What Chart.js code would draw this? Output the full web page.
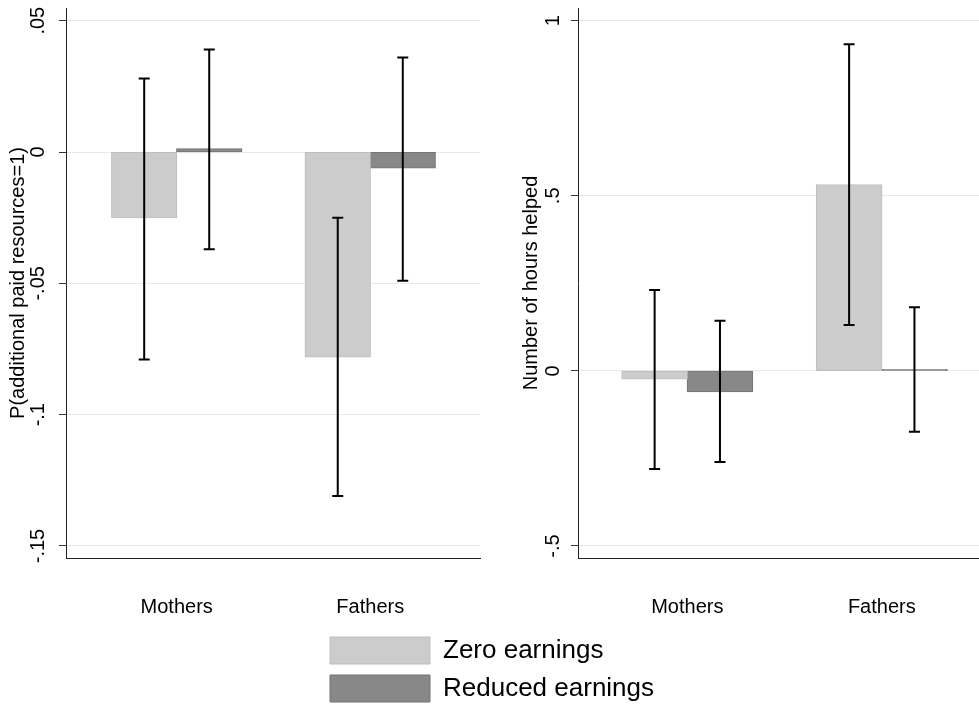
<!DOCTYPE html>
<html><head><meta charset="utf-8">
<script src="https://cdn.jsdelivr.net/npm/chart.js@4.4.1/dist/chart.umd.min.js"></script>
<style>
html,body{margin:0;padding:0;background:#fff;overflow:hidden;width:979px;height:704px;}
.box{position:absolute;}
canvas{display:block;}
</style></head><body>
<div class="box" style="left:0;top:0;width:489px;height:640px"><canvas id="c1" width="489" height="640"></canvas></div>
<div class="box" style="left:489px;top:0;width:514px;height:640px"><canvas id="c2" width="514" height="640"></canvas></div>
<div class="box" style="left:319px;top:626px;width:400px;height:200px"><canvas id="c3" width="400" height="200"></canvas></div>
<script>
// ---- data ----
const categories = ['Mothers', 'Fathers'];
const seriesNames = ['Zero earnings', 'Reduced earnings'];

// Panel 1: P(additional paid resources=1)
const paidZero = [-0.025, -0.078];
const paidZeroLow = [-0.079, -0.131];
const paidZeroHigh = [0.028, -0.025];
const paidReduced = [0.0012, -0.006];
const paidReducedLow = [-0.037, -0.049];
const paidReducedHigh = [0.039, 0.036];

// Panel 2: Number of hours helped
const hoursZero = [-0.023, 0.531];
const hoursZeroLow = [-0.280, 0.131];
const hoursZeroHigh = [0.231, 0.933];
const hoursReduced = [-0.059, 0.004];
const hoursReducedLow = [-0.260, -0.174];
const hoursReducedHigh = [0.143, 0.182];

const paidTicks = [-0.15, -0.1, -0.05, 0, 0.05];
const paidTickLabels = ['-.15', '-.1', '-.05', '0', '.05'];
const hoursTicks = [-0.5, 0, 0.5, 1];
const hoursTickLabels = ['-.5', '0', '.5', '1'];

const titles = ['P(additional paid resources=1)', 'Number of hours helped'];

// ---- style ----
const FONT = "'Liberation Sans', Arial, Helvetica, sans-serif";
Chart.defaults.font.family = FONT;
Chart.defaults.color = '#000';
const fills = ['rgb(204,204,204)', 'rgb(136,136,136)'];
const borders = ['rgb(190,190,190)', 'rgb(116,116,116)'];

const errorBars = {
  id: 'errorBars',
  afterDatasetsDraw(chart) {
    const ctx = chart.ctx, ys = chart.scales.y;
    ctx.save();
    ctx.strokeStyle = '#000';
    ctx.lineWidth = 2;
    chart.data.datasets.forEach((ds, i) => {
      if (!ds.ciLow) return;
      const meta = chart.getDatasetMeta(i);
      meta.data.forEach((el, j) => {
        const x = el.x;
        const yl = ys.getPixelForValue(ds.ciLow[j]);
        const yh = ys.getPixelForValue(ds.ciHigh[j]);
        ctx.beginPath();
        ctx.moveTo(x, yl); ctx.lineTo(x, yh);
        ctx.moveTo(x - 5.5, yl); ctx.lineTo(x + 5.5, yl);
        ctx.moveTo(x - 5.5, yh); ctx.lineTo(x + 5.5, yh);
        ctx.stroke();
      });
    });
    ctx.restore();
  }
};

function makeDataset(k, vals, lo, hi) {
  return {
    label: seriesNames[k],
    data: categories.map((c, i) => ({x: i + 1, y: vals[i]})),
    ciLow: lo, ciHigh: hi,
    backgroundColor: fills[k],
    borderColor: borders[k],
    borderWidth: 1,
    borderSkipped: false,
    inflateAmount: 0.6,
    categoryPercentage: 0.672,
    barPercentage: 1.0
  };
}

function makePanel(id, cfg) {
  return new Chart(document.getElementById(id), {
    type: 'bar',
    data: {datasets: cfg.datasets},
    plugins: [errorBars],
    options: {
      responsive: false,
      animation: false,
      devicePixelRatio: 1,
      layout: {padding: {top: 8, right: cfg.padRight, left: 0, bottom: 0}},
      plugins: {legend: {display: false}, tooltip: {enabled: false}},
      scales: {
        x: {
          type: 'linear', min: cfg.xMin, max: cfg.xMax, offset: false,
          afterBuildTicks: s => { s.ticks = categories.map((c, i) => ({value: i + 1})); },
          afterFit: s => { s.height = 82; s.paddingLeft = 0; s.paddingRight = 0; },
          grid: {display: false, drawTicks: false},
          border: {display: true, color: '#222', width: 1},
          ticks: {autoSkip: false, maxRotation: 0, minRotation: 0, padding: 37,
                  font: {size: 20}, color: '#000',
                  callback: v => categories[Math.round(v) - 1] ?? ''}
        },
        y: {
          min: cfg.yMin, max: cfg.yMax,
          afterBuildTicks: s => { s.ticks = cfg.ticks.map(v => ({value: v})); },
          afterFit: s => { s.width = cfg.axisW; s.paddingTop = 0; s.paddingBottom = 0; },
          grid: {color: '#e8e8e8', tickColor: '#333', tickLength: 7, lineWidth: 1},
          border: {display: true, color: '#222', width: 1},
          ticks: {minRotation: 90, maxRotation: 90, crossAlign: 'center', padding: cfg.tickPad,
                  font: {size: 20}, color: '#000',
                  callback: (v, i) => cfg.tickLabels[i]},
          title: {display: true, text: cfg.title, font: {size: 20}, color: '#000',
                  padding: {top: cfg.titlePad, bottom: 0}}
        }
      }
    }
  });
}

makePanel('c1', {
  datasets: [makeDataset(0, paidZero, paidZeroLow, paidZeroHigh),
             makeDataset(1, paidReduced, paidReducedLow, paidReducedHigh)],
  xMin: 0.428, xMax: 2.567, yMin: -0.15457, yMax: 0.05484,
  ticks: paidTicks, tickLabels: paidTickLabels, title: titles[0],
  axisW: 66, tickPad: 3, titlePad: 6, padRight: 9
});

makePanel('c2', {
  datasets: [makeDataset(0, hoursZero, hoursZeroLow, hoursZeroHigh),
             makeDataset(1, hoursReduced, hoursReducedLow, hoursReducedHigh)],
  xMin: 0.438, xMax: 2.577, yMin: -0.5343, yMax: 1.0363,
  ticks: hoursTicks, tickLabels: hoursTickLabels, title: titles[1],
  axisW: 89, tickPad: 6, titlePad: 30, padRight: 9
});

// legend
new Chart(document.getElementById('c3'), {
  type: 'bar',
  data: {labels: [], datasets: seriesNames.map((n, k) => ({
    label: n, data: [], backgroundColor: fills[k], borderColor: borders[k], borderWidth: 1}))},
  options: {
    responsive: false, animation: false, devicePixelRatio: 1,
    layout: {padding: 0},
    scales: {x: {display: false}, y: {display: false}},
    plugins: {
      tooltip: {enabled: false},
      legend: {display: true, position: 'top', align: 'start',
        labels: {boxWidth: 100, boxHeight: 27, padding: 11, color: '#000',
                 font: {size: 26, family: FONT}}}
    }
  }
});
</script>
</body></html>
